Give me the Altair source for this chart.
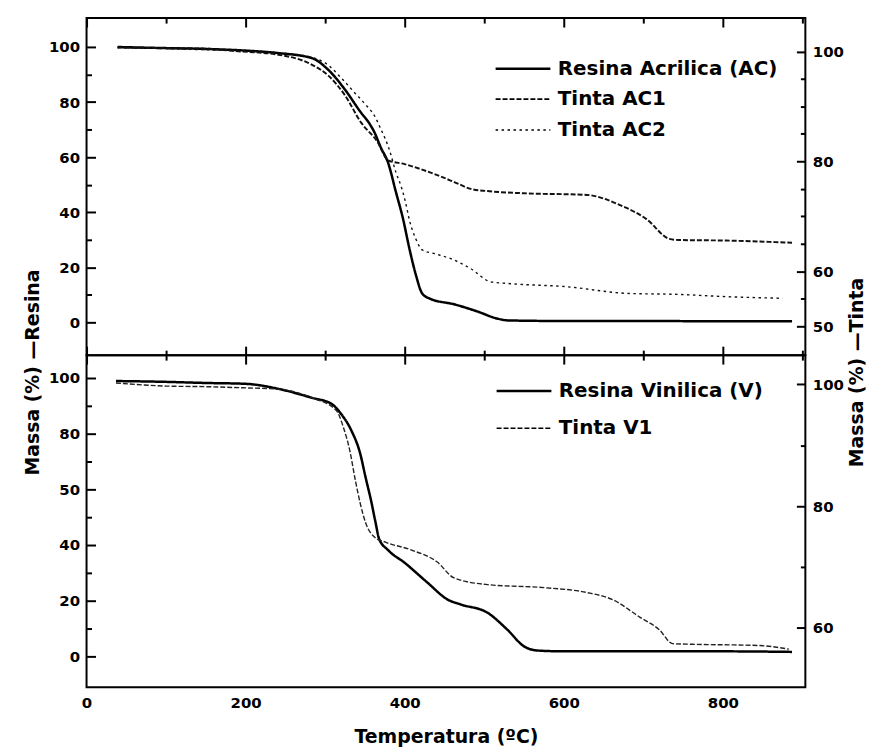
import altair as alt
import pandas as pd

# ---------------- data ----------------
RES_AC_T = [39, 100, 150, 200, 241, 283, 304, 325, 345, 355, 362, 370, 379, 389, 398, 406, 414, 422, 431, 463, 491, 516, 530, 600, 700, 800, 887]
RES_AC_M = [100.0, 99.6, 99.3, 98.7, 97.8, 96.0, 91.7, 84.5, 76.2, 72.5, 69.0, 63.5, 58.1, 47.3, 37.5, 26.7, 17.3, 10.5, 8.7, 6.5, 4.0, 1.4, 0.7, 0.5, 0.5, 0.4, 0.4]

AC1_T = [39, 100, 150, 183, 241, 283, 304, 325, 345, 366, 379, 400, 420, 441, 463, 483, 504, 550, 629, 670, 704, 733, 745, 804, 887]
AC1_M = [100.7, 100.6, 100.5, 100.1, 99.4, 97.6, 95.6, 92.0, 87.1, 83.5, 80.2, 79.5, 78.6, 77.5, 76.2, 75.0, 74.6, 74.2, 73.9, 72.1, 69.5, 65.9, 65.7, 65.6, 65.2]

AC2_T = [39, 100, 150, 200, 266, 300, 320, 337, 351, 362, 369, 381, 389, 395, 401, 406, 414, 422, 438, 458, 483, 508, 529, 604, 679, 745, 804, 875]
AC2_M = [100.7, 100.5, 100.3, 100.1, 99.4, 97.9, 95.2, 92.5, 90.3, 88.3, 86.2, 82.0, 78.0, 75.7, 72.6, 69.3, 65.9, 63.9, 63.2, 62.3, 60.5, 58.1, 57.8, 57.2, 56.0, 55.8, 55.4, 55.1]

RES_V_T = [37, 100, 150, 200, 241, 283, 308, 320, 333, 344, 351, 358, 363, 368, 379, 400, 429, 454, 471, 504, 529, 550, 567, 600, 700, 800, 887]
RES_V_M = [98.8, 98.5, 98.1, 97.8, 96.0, 92.8, 90.6, 87.0, 81.0, 72.8, 64.0, 55.5, 48.5, 42.0, 38.1, 33.5, 26.3, 20.3, 18.5, 15.6, 9.5, 3.5, 2.0, 1.7, 1.7, 1.7, 1.5]

V1_T = [37, 100, 150, 200, 241, 283, 314, 323, 331, 338, 344, 351, 362, 375, 408, 441, 462, 504, 575, 629, 662, 695, 720, 737, 762, 845, 883]
V1_M = [100.2, 99.7, 99.6, 99.4, 99.2, 97.8, 95.7, 92.9, 89.1, 84.2, 80.5, 77.2, 74.9, 74.1, 72.8, 70.8, 68.2, 67.1, 66.6, 65.8, 64.6, 61.8, 59.7, 57.4, 57.3, 57.1, 56.5]

TOP_SERIES = ["Resina Acrilica (AC)", "Tinta AC1", "Tinta AC2"]
BOT_SERIES = ["Resina Vinilica (V)", "Tinta V1"]

X_TICKS = [0, 100, 200, 300, 400, 500, 600, 700, 800, 900]
LEFT_TICKS = [0, 10, 20, 30, 40, 50, 60, 70, 80, 90, 100]
TOP_RIGHT_TICKS = [50, 55, 60, 65, 70, 75, 80, 85, 90, 95, 100]
BOT_RIGHT_TICKS = [60, 70, 80, 90, 100]


def frame(t, m, s):
    return pd.DataFrame({"T": t, "M": m, "s": [s] * len(t)})


df_top_res = frame(RES_AC_T, RES_AC_M, TOP_SERIES[0])
df_top_tin = pd.concat([frame(AC1_T, AC1_M, TOP_SERIES[1]), frame(AC2_T, AC2_M, TOP_SERIES[2])])
df_bot_res = frame(RES_V_T, RES_V_M, BOT_SERIES[0])
df_bot_tin = frame(V1_T, V1_M, BOT_SERIES[1])

FONT = "DejaVu Sans"
W = 723
H_TOP = 339
H_BOT = 334
XDOM = [0, 903.75]


def tick_dash(test):
    return {"condition": {"test": test, "value": [9, 3000]}, "value": [5, 3000]}


def x_axis(orient, labels=False, title=None):
    kw = dict(
        orient=orient, values=X_TICKS, ticks=False, domain=False,
        grid=True, gridColor="black", gridWidth=2, gridOpacity=1,
        gridDash=tick_dash("datum.value % 200 === 0"),
        labels=labels,
    )
    if labels:
        kw.update(labelExpr="datum.value % 200 === 0 ? datum.label : ''",
                  labelFont=FONT, labelFontSize=15, labelFontWeight="bold",
                  labelColor="black", labelPadding=8, labelFlush=False)
    if title:
        kw.update(title=title, titleFont=FONT, titleFontSize=19, titleFontWeight="bold",
                  titleColor="black", titlePadding=18)
    else:
        kw.update(title=None)
    return alt.Axis(**kw)


def y_axis(orient, values, label_expr, major_test, title=None, title_x=None, title_y=None):
    kw = dict(
        orient=orient, values=values, ticks=False, domain=False,
        grid=True, gridColor="black", gridWidth=2, gridOpacity=1,
        gridDash=tick_dash(major_test),
        labelExpr=label_expr, labelFont=FONT, labelFontSize=15, labelFontWeight="bold",
        labelColor="black", labelPadding=7, labelFlush=False,
    )
    if title:
        kw.update(title=title, titleFont=FONT, titleFontSize=19, titleFontWeight="bold",
                  titleColor="black", titleAngle=270, titleAlign="center",
                  titleBaseline="middle", titleX=title_x, titleY=title_y)
    else:
        kw.update(title=None)
    return alt.Axis(**kw)


# a horizontal line symbol ~55px long drawn with a modest symbol size,
# so the legend rows stay close together
SYMBOL_PATH = "M-1.9,0H1.9"


def legend(x, y, row_pad):
    return alt.Legend(
        title=None, orient="none", legendX=x, legendY=y, padding=0,
        symbolType=SYMBOL_PATH, symbolSize=841, symbolStrokeColor="black",
        symbolFillColor="transparent",
        labelFont=FONT, labelFontSize=20, labelFontWeight="bold", labelColor="black",
        labelOffset=19, labelLimit=400, rowPadding=row_pad,
    )


def enc_style(domain, dashes, widths, leg):
    return dict(
        strokeDash=alt.StrokeDash("s:N", scale=alt.Scale(domain=domain, range=dashes), legend=leg),
        strokeWidth=alt.StrokeWidth("s:N", scale=alt.Scale(domain=domain, range=widths), legend=leg),
    )


# ---------------- top panel ----------------
top_leg = legend(423, 35, 5)
top_style = enc_style(TOP_SERIES, [[1, 0], [5, 2], [2.5, 3.5]], [2.5, 1.4, 2.8], top_leg)

top_res = alt.Chart(df_top_res).mark_line(color="black", interpolate="monotone").encode(
    x=alt.X("T:Q", scale=alt.Scale(domain=XDOM, nice=False, zero=False), axis=x_axis("top")),
    y=alt.Y("M:Q", scale=alt.Scale(domain=[-11.9, 110.5], nice=False, zero=False),
            axis=y_axis("left", LEFT_TICKS,
                        "datum.value % 20 === 0 ? datum.label : ''",
                        "datum.value % 20 === 0",
                        title="Massa (%) \u2014Resina", title_x=-54, title_y=356)),
    **top_style,
)
top_tin = alt.Chart(df_top_tin).mark_line(color="#111111", interpolate="monotone").encode(
    x=alt.X("T:Q", scale=alt.Scale(domain=XDOM, nice=False, zero=False), axis=x_axis("bottom")),
    y=alt.Y("M:Q", scale=alt.Scale(domain=[44.76, 106.06], nice=False, zero=False),
            axis=y_axis("right", TOP_RIGHT_TICKS,
                        "indexof([50, 60, 80, 100], datum.value) >= 0 ? datum.label : ''",
                        "indexof([50, 60, 80, 100], datum.value) >= 0",
                        title="Massa (%) \u2014Tinta", title_x=51, title_y=356)),
    **top_style,
)
top = alt.layer(top_res, top_tin).resolve_scale(y="independent").resolve_axis(
    x="independent", y="independent").properties(width=W, height=H_TOP)

# ---------------- bottom panel ----------------
bot_leg = legend(424, 20, 12)
bot_style = enc_style(BOT_SERIES, [[1, 0], [5, 2]], [2.5, 1.4], bot_leg)

bot_res = alt.Chart(df_bot_res).mark_line(color="black", interpolate="monotone").encode(
    x=alt.X("T:Q", scale=alt.Scale(domain=XDOM, nice=False, zero=False), axis=None),
    y=alt.Y("M:Q", scale=alt.Scale(domain=[-11.18, 108.1], nice=False, zero=False),
            axis=y_axis("left", LEFT_TICKS,
                        "datum.value === 60 ? '50' : (datum.value % 20 === 0 ? datum.label : '')",
                        "datum.value % 20 === 0")),
    **bot_style,
)
bot_tin = alt.Chart(df_bot_tin).mark_line(color="#222222", interpolate="monotone").encode(
    x=alt.X("T:Q", scale=alt.Scale(domain=XDOM, nice=False, zero=False),
            axis=x_axis("bottom", labels=True, title="Temperatura (\u00baC)")),
    y=alt.Y("M:Q", scale=alt.Scale(domain=[50.25, 104.78], nice=False, zero=False),
            axis=y_axis("right", BOT_RIGHT_TICKS,
                        "datum.value % 20 === 0 ? datum.label : ''",
                        "datum.value % 20 === 0")),
    **bot_style,
)
bot = alt.layer(bot_res, bot_tin).resolve_scale(y="independent").resolve_axis(
    x="independent", y="independent").properties(width=W, height=H_BOT)

chart = alt.vconcat(top, bot, spacing=0, bounds="flush").resolve_scale(
    x="independent", strokeDash="independent", strokeWidth="independent"
).properties(
    padding={"left": 15, "top": 7, "right": 0, "bottom": 0},
    background="white",
).configure_view(stroke="black", strokeWidth=2)

chart.save("out.html", embed_options={"renderer": "svg", "actions": False})
